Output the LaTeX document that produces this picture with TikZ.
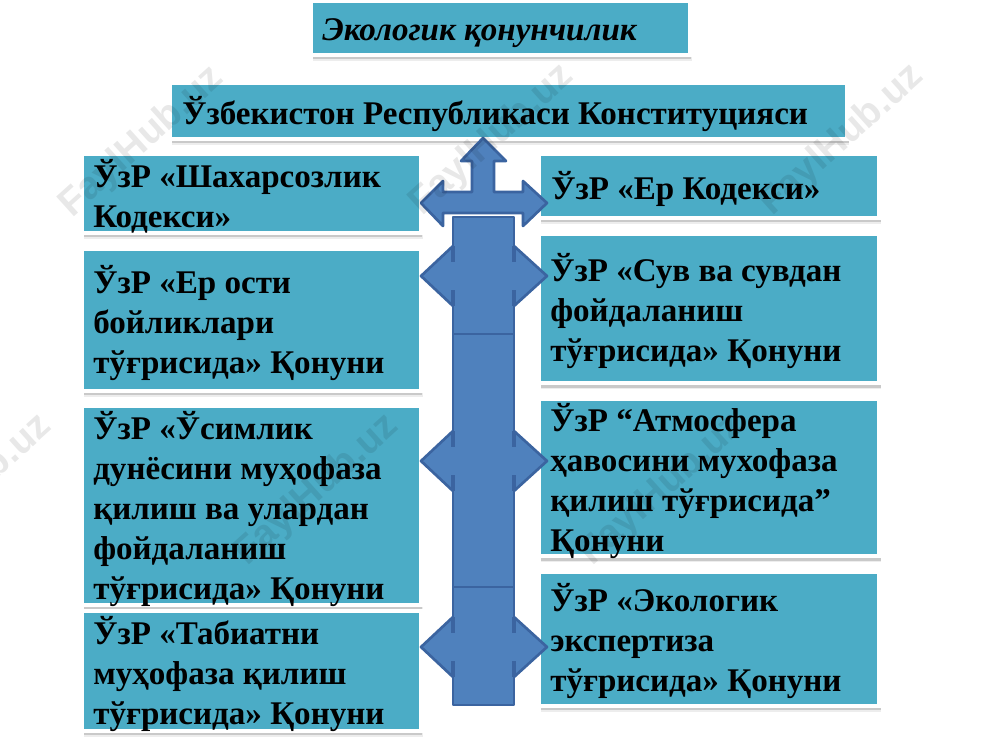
\documentclass[tikz,border=0pt]{standalone}
\usepackage{fontspec}
\setmainfont{Liberation Serif}
\setsansfont{Liberation Sans}
\usepackage{xcolor}
\usetikzlibrary{shadows}
\definecolor{boxteal}{HTML}{4BACC6}
\definecolor{arrowblue}{HTML}{4F81BD}
\definecolor{arrowline}{HTML}{3B64A0}

\begin{document}
\begin{tikzpicture}[
    x=0.75pt, y=-0.75pt,
    lawbox/.style={rectangle, anchor=north west, fill=boxteal, draw=white, line width=3pt, inner sep=0pt, outer sep=0pt,
        drop shadow={shadow xshift=1.6pt, shadow yshift=-4.4pt, opacity=0.14},
        drop shadow={shadow xshift=1.2pt, shadow yshift=-3.2pt, opacity=0.32}},
    lawtext/.style={anchor=north west, inner sep=0pt, align=left, font=\fontsize{24.8}{30}\selectfont\bfseries},
    stamp/.style={rotate=42, text=black, text opacity=0.09, font=\fontsize{29}{30}\selectfont\sffamily\bfseries},
    shaft/.style={fill=arrowblue, draw=arrowline, line width=2pt, line join=round},
    tick/.style={draw=arrowline, line width=3.4pt}
]
    \useasboundingbox (0,0) rectangle (1000,750);
    \fill[white] (0,0) rectangle (1000,750);

    % Boxes
    \node[lawbox, minimum width=284pt, minimum height=40.5pt] (title) at (311,1) {};
    \node[lawbox, minimum width=508pt, minimum height=42pt] (constitution) at (170,83) {};
    \node[lawbox, minimum width=254pt, minimum height=59pt] (citycode) at (82,154) {};
    \node[lawbox, minimum width=254pt, minimum height=106.5pt] (subsoil) at (82,249) {};
    \node[lawbox, minimum width=254pt, minimum height=149pt] (plants) at (82,406) {};
    \node[lawbox, minimum width=254pt, minimum height=90pt] (nature) at (82,611) {};
    \node[lawbox, minimum width=255pt, minimum height=48pt] (landcode) at (539,154) {};
    \node[lawbox, minimum width=255pt, minimum height=112pt] (water) at (539,234) {};
    \node[lawbox, minimum width=255pt, minimum height=118pt] (air) at (539,399) {};
    \node[lawbox, minimum width=255pt, minimum height=100.5pt] (expert) at (539,572) {};

    % Arrows
    \draw[shaft] (483,138) -- (506,161) -- (494,161) -- (494,192) -- (523,192) -- (523,181) -- (547,203)
        -- (523,226) -- (523,213) -- (443,213) -- (443,226) -- (421,203) -- (443,181) -- (443,192)
        -- (472,192) -- (472,161) -- (461,161) -- cycle;
    \foreach \ymid/\ytop/\ybot in {276/217/334, 461/334/587, 647/587/705} {
        \draw[shaft] (453,\ymid-30) -- (421,\ymid) -- (453,\ymid+30);
        \draw[shaft] (514,\ymid-30) -- (547,\ymid) -- (514,\ymid+30);
        \draw[shaft] (453,\ytop) rectangle (514,\ybot);
        \fill[arrowblue] (448,\ymid-14) rectangle (519,\ymid+14);
        \foreach \xs in {453, 514} {
            \draw[tick] (\xs,\ymid-30) -- (\xs,\ymid-14);
            \draw[tick] (\xs,\ymid+14) -- (\xs,\ymid+30);
        }
    }

    % Texts
    \node[lawtext, font=\fontsize{24.8}{30}\selectfont\bfseries\itshape] (titletext) at (322,18) {Экологик қонунчилик};
    \node[lawtext] (constitutiontext) at (182,96) {Ўзбекистон Республикаси Конституцияси};
    \node[lawtext] (citycodetext) at (93,159) {ЎзР «Шахарсозлик\\Кодекси»};
    \node[lawtext] (subsoiltext) at (93,265) {ЎзР «Ер ости\\бойликлари\\тўғрисида» Қонуни};
    \node[lawtext] (plantstext) at (93,411) {ЎзР «Ўсимлик\\дунёсини муҳофаза\\қилиш ва улардан\\фойдаланиш\\тўғрисида» Қонуни};
    \node[lawtext] (naturetext) at (93,616) {ЎзР «Табиатни\\муҳофаза қилиш\\тўғрисида» Қонуни};
    \node[lawtext] (landcodetext) at (551,171) {ЎзР «Ер Кодекси»};
    \node[lawtext] (watertext) at (550,253) {ЎзР «Сув ва сувдан\\фойдаланиш\\тўғрисида» Қонуни};
    \node[lawtext] (airtext) at (550,403) {ЎзР “Атмосфера\\ҳавосини мухофаза\\қилиш тўғрисида”\\Қонуни};
    \node[lawtext] (experttext) at (550,583) {ЎзР «Экологик\\экспертиза\\тўғрисида» Қонуни};

    % Watermarks
    \foreach \xm/\ym [count=\i] in {142/142, 492/140, 842/140, -30/490, 317/490, 662/490} {
        \node[stamp] (stamp\i) at (\xm,\ym) {FaylHub.uz};
    }
\end{tikzpicture}
\end{document}
